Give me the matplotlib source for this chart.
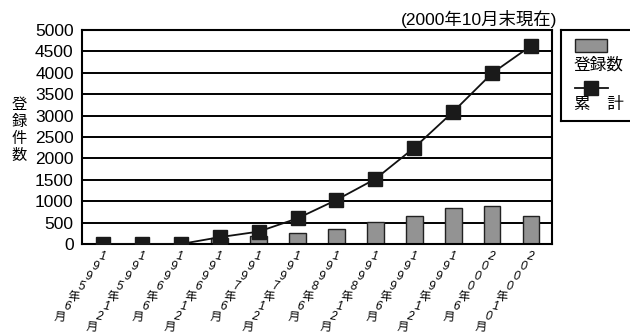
import matplotlib
matplotlib.use("Agg")
import matplotlib.pyplot as plt
from matplotlib.patches import Rectangle
from matplotlib.lines import Line2D

plt.rcParams['font.family'] = ['Liberation Sans', 'Noto Sans CJK JP']

# periods (half-yearly, last one is end of October 2000)
periods = ["1995年6月", "1995年12月", "1996年6月", "1996年12月",
           "1997年6月", "1997年12月", "1998年6月", "1998年12月",
           "1999年6月", "1999年12月", "2000年6月", "2000年10月"]
registrations = [0, 0, 0, 150, 190, 250, 340, 505, 660, 830, 895, 655]
cumulative = [0, 0, 0, 160, 290, 600, 1030, 1520, 2250, 3090, 3990, 4630]
yticks = list(range(0, 5001, 500))

DPI = 100
fig = plt.figure(figsize=(6.3, 3.35), dpi=DPI)
ax = fig.add_axes([0.1302, 0.2716, 0.746, 0.6388])

x = list(range(len(periods)))

# horizontal guide lines at every tick
for v in yticks:
    ax.axhline(v, color='black', linewidth=1.4, zorder=1)

ax.bar(x, registrations, width=0.43, color='#939393', edgecolor='#222222',
       linewidth=1.0, zorder=2)
ax.plot(x, cumulative, color='#111111', linewidth=1.3, marker='s',
        markersize=10, markerfacecolor='#1a1a1a', markeredgecolor='#1a1a1a',
        zorder=3)

ax.set_xlim(-0.54, len(periods) - 0.46)
ax.set_ylim(0, 5000)
ax.set_yticks(yticks)
ax.tick_params(axis='y', length=0, pad=6, labelsize=12.5)
ax.set_xticks(x, labels=[''] * len(x))
ax.tick_params(axis='x', length=0)

# x labels: one character per line, the column leaning down to the left
px = 72.0 / DPI
step_y = 10.0
step_x = 7.0
for i, label in enumerate(periods):
    for k, ch in enumerate(label):
        is_digit = ch.isdigit()
        ax.annotate(ch, xy=(i, 0), xycoords='data',
                    xytext=((-1 - step_x * k) * px, -(13 + step_y * k) * px),
                    textcoords='offset points', ha='center', va='center',
                    fontsize=8.5,
                    style='italic' if is_digit else 'normal',
                    rotation=-10 if is_digit else -4,
                    rotation_mode='anchor',
                    annotation_clip=False)

for s in ax.spines.values():
    s.set_linewidth(1.5)
    s.set_color('black')

fig.text(0.884, 0.944, "(2000年10月末現在)", ha='right', va='center',
         fontsize=12.5)
fig.text(0.030, 0.610, "登\n録\n件\n数", ha='center', va='center',
         fontsize=11, linespacing=1.25)

# legend box drawn by hand: symbol above its label
lg = fig.add_axes([0.890, 0.639, 0.16, 0.271])
lg.set_xlim(561, 662)
lg.set_ylim(121, 30)
lg.set_xticks([])
lg.set_yticks([])
for s in lg.spines.values():
    s.set_linewidth(1.5)
lg.add_patch(Rectangle((575, 39), 32, 13, facecolor='#939393',
                       edgecolor='#222222', linewidth=1.0))
lg.text(574, 65, "登録数", ha='left', va='center', fontsize=12)
lg.add_line(Line2D([575, 608], [88, 88], color='#111111', linewidth=1.3))
lg.plot([591.5], [88], marker='s', markersize=10, color='#1a1a1a')
lg.text(574, 105, "累　計", ha='left', va='center', fontsize=12)

fig.savefig("out.png", dpi=DPI)
